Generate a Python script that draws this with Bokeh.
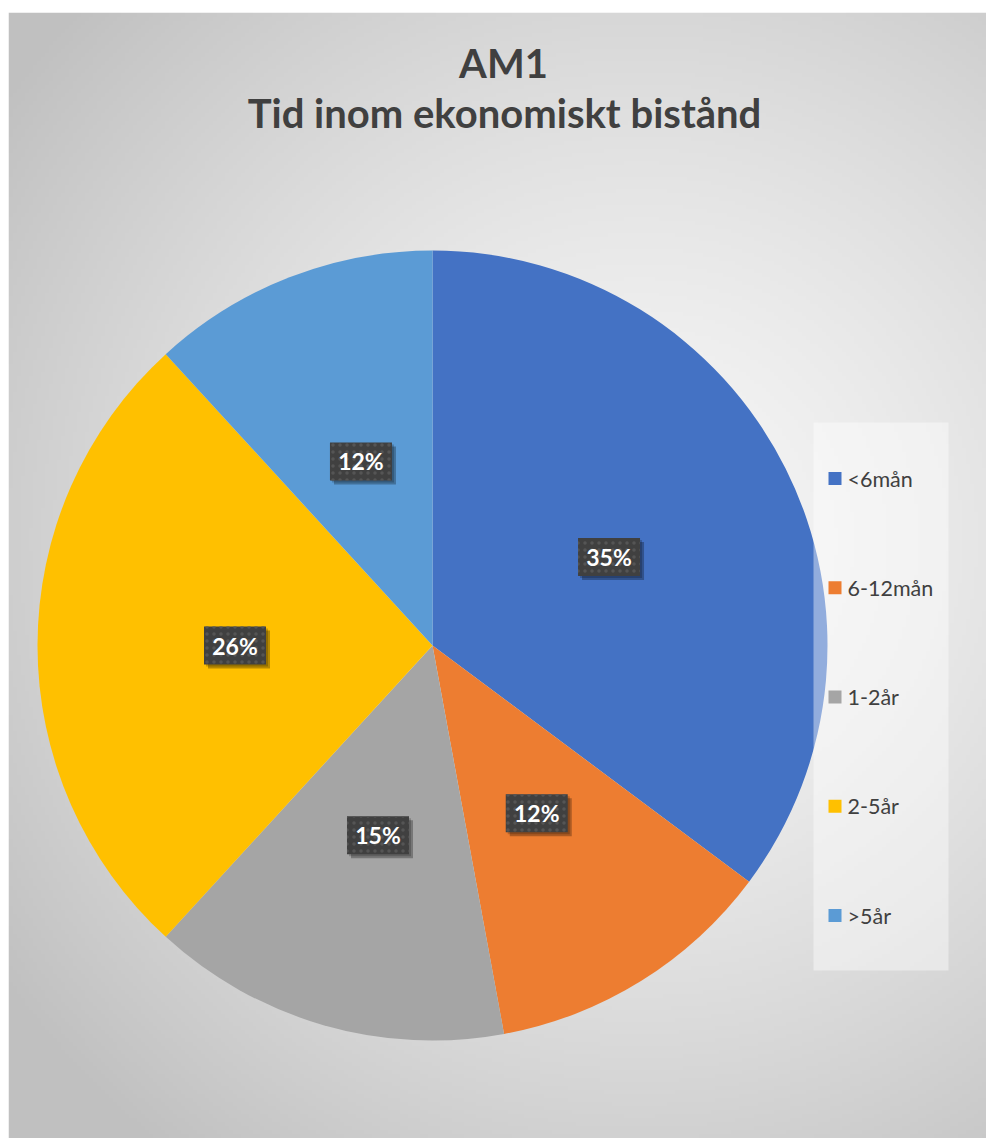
import numpy as np
from bokeh.plotting import figure
from bokeh.models import Range1d, ColumnDataSource
from bokeh.core.properties import value
from bokeh.embed import file_html
from bokeh.resources import INLINE

# ---- data ----
categories = ["<6mån", "6-12mån", "1-2år", "2-5år", ">5år"]
shares = [35.2, 11.9, 14.7, 26.4, 11.8]
colors = ["#4472C4", "#ED7D31", "#A5A5A5", "#FFC000", "#5B9BD5"]
title_lines = ["AM1", "Tid inom ekonomiskt bistånd"]

# ---- layout (frame pixel coords, y up) ----
W, H = 986, 1138
LEFT, TOP = 8, 12
FW, FH = W - LEFT, H - TOP
def px(x):  # page x -> data x
    return x - LEFT
def py(y):  # page y -> data y
    return (TOP + FH) - y

p = figure(width=W, height=H, output_backend="svg", toolbar_location=None,
           x_range=Range1d(0, FW), y_range=Range1d(0, FH),
           x_axis_type=None, y_axis_type=None,
           min_border_top=TOP, min_border_left=LEFT, min_border_right=0, min_border_bottom=0,
           border_fill_color="white", outline_line_color=None)
p.grid.visible = False

# ---- radial gradient background ----
nx, ny = 245, 282
xs = LEFT + (np.arange(nx) + 0.5) * FW / nx
ys = (TOP + FH) - (np.arange(ny) + 0.5) * FH / ny
X, Y = np.meshgrid(xs, ys)
d = np.sqrt((X - 640) ** 2 + (Y - 540) ** 2) / 780.0
d = np.clip(d, 0, 1)
g = (247 - (247 - 192) * d ** 1.4).astype(np.uint8)
img = np.empty((ny, nx), dtype=np.uint32)
view = img.view(dtype=np.uint8).reshape((ny, nx, 4))
view[:, :, 0] = g
view[:, :, 1] = g
view[:, :, 2] = g
view[:, :, 3] = 255
p.image_rgba(image=[img], x=0, y=0, dw=FW, dh=FH)

# ---- pie ----
cx, cy, r = px(432), py(645), 395
tot = sum(shares)
fr = np.array(shares) / tot
cum = np.concatenate([[0], np.cumsum(fr)])
start = np.pi / 2 - 2 * np.pi * cum[:-1]
end = np.pi / 2 - 2 * np.pi * cum[1:]
mid = (start + end) / 2
src = ColumnDataSource(dict(start=start, end=end, color=colors, cat=categories))
p.wedge(x=cx, y=cy, radius=r, start_angle="start", end_angle="end", direction="clock",
        fill_color="color", line_color=None, source=src)

# ---- data labels ----
lx = cx + 0.5 * r * np.cos(mid)
ly = cy + 0.5 * r * np.sin(mid)
labels = [f"{round(s / tot * 100)}%" for s in shares]
p.rect(x=lx + 4, y=ly - 4, width=62, height=38, fill_color="black", fill_alpha=0.28, line_color=None)
p.rect(x=lx + 2, y=ly - 2, width=62, height=38, fill_color="black", fill_alpha=0.2, line_color=None)
p.rect(x=lx, y=ly, width=62, height=38, fill_color="#404040", line_color=None,
       hatch_pattern="dot", hatch_color="#555555", hatch_scale=7, hatch_weight=1)
p.text(x=lx, y=ly, text=labels, text_color="white", text_font=value("Lato"),
       text_font_style="bold", text_font_size="23px", text_align="center", text_baseline="middle")

# ---- legend ----
p.quad(left=px(813), right=px(948), bottom=py(970), top=py(422), fill_color="white",
       fill_alpha=0.42, line_color=None)
leg_y = py(478) - np.arange(len(categories)) * 109.25
p.rect(x=px(834.5), y=leg_y, width=13, height=13, fill_color=colors, line_color=None)
p.text(x=px(847), y=leg_y, text=categories, text_color="#404040", text_font=value("Lato"),
       text_font_size="21.5px", text_align="left", text_baseline="middle")

# ---- title ----
p.text(x=[px(503), px(504)], y=[py(62), py(112)], text=title_lines, text_color="#404040",
       text_font=value("Lato"), text_font_style="bold", text_font_size="40px",
       text_align="center", text_baseline="middle")

open("out.html", "w").write(file_html(p, INLINE))
